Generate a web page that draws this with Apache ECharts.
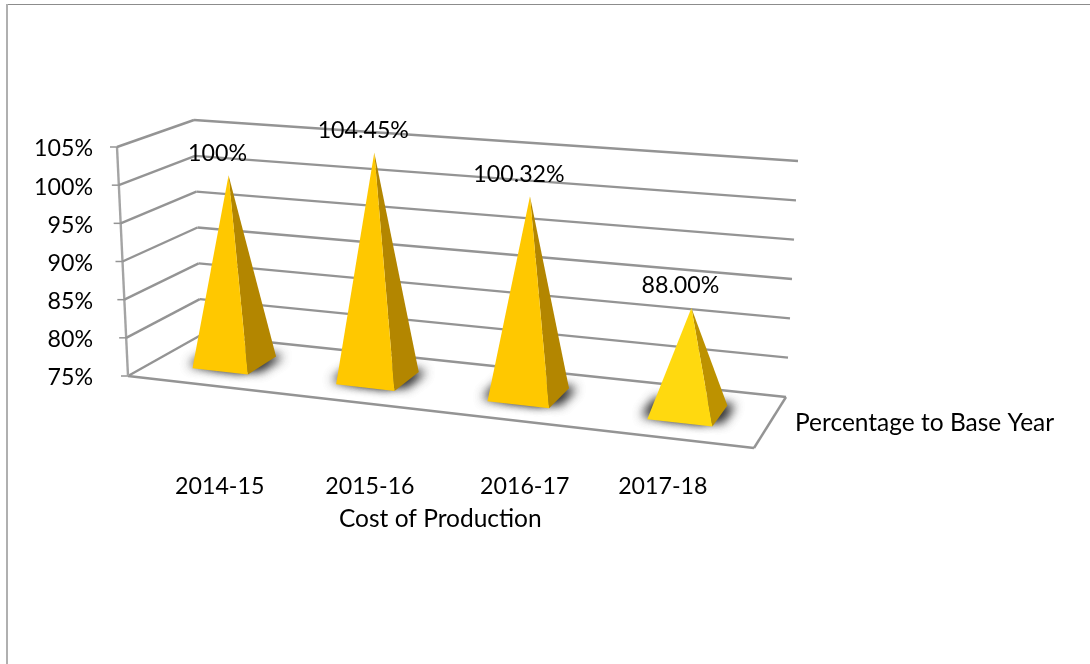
<!DOCTYPE html>
<html>
<head>
<meta charset="utf-8">
<style>html,body{margin:0;padding:0;background:#fff}#chart{width:1090px;height:664px}</style>
<script src="https://cdn.jsdelivr.net/npm/echarts@6/dist/echarts.min.js"></script>
</head>
<body>
<div id="chart"></div>
<script>
// Cost of production as a percentage of the base year.
const categories = ['2014-15', '2015-16', '2016-17', '2017-18'];
const percentValues = [100, 104.45, 100.32, 88];
const valueLabels = ['100%', '104.45%', '100.32%', '88.00%'];
const axisMin = 75;
const axisMax = 105;
const axisStep = 5;
const depthName = 'Percentage to Base Year';
const categoryName = 'Cost of Production';

// Corners of the receding box: floor and ceiling planes, as [front-left, front-right, back-right, back-left].
const floorCorners = [[128, 376], [754, 448], [786, 397], [201, 335]];
const ceilingCorners = [[117, 147], [767, 195.5], [798, 161], [194, 120]];
// Horizontal nudges for the category captions, in pixels.
const captionNudge = [-15, -8, -4, -25];
const FONT = 'Lato, "Noto Sans", sans-serif';
const NUMBER_SIZE = 23.2;
const WORD_SIZE = 24.5;

// Projective map from the unit square onto a quadrilateral.
function squareToQuad(q) {
  const [[x0, y0], [x1, y1], [x2, y2], [x3, y3]] = q;
  const dx1 = x1 - x2, dx2 = x3 - x2, sx = x0 - x1 + x2 - x3;
  const dy1 = y1 - y2, dy2 = y3 - y2, sy = y0 - y1 + y2 - y3;
  const d = dx1 * dy2 - dx2 * dy1;
  const g = (sx * dy2 - dx2 * sy) / d;
  const h = (dx1 * sy - sx * dy1) / d;
  const a = x1 - x0 + g * x1, b = x3 - x0 + h * x3;
  const c = y1 - y0 + g * y1, e = y3 - y0 + h * y3;
  return (u, t) => {
    const w = g * u + h * t + 1;
    return [(a * u + b * t + x0) / w, (c * u + e * t + y0) / w];
  };
}
const floorMap = squareToQuad(floorCorners);
const ceilingMap = squareToQuad(ceilingCorners);

// u runs along the categories, t into the depth, w from axis minimum to axis maximum.
function project(u, t, w) {
  const f = floorMap(u, t), c = ceilingMap(u, t);
  return [f[0] + (c[0] - f[0]) * w, f[1] + (c[1] - f[1]) * w];
}

const chart = echarts.init(document.getElementById('chart'), null, { renderer: 'canvas' });

// Converts a data pair to unit coordinates using the cartesian scales.
function toUnit(api, params, catPos, value) {
  const p = api.coord([catPos, value]);
  const g = params.coordSys;
  return [(p[0] - g.x) / g.width, (g.y + g.height - p[1]) / g.height];
}

const WALL = '#949494';
const tickValues = [];
for (let v = axisMin; v <= axisMax; v += axisStep) tickValues.push(v);

function seg(a, b, width, color) {
  return { type: 'line', shape: { x1: a[0], y1: a[1], x2: b[0], y2: b[1] },
    style: { stroke: color || WALL, lineWidth: width || 2.4 }, z2: 1 };
}

function renderFrame(params, api) {
  const v = api.value(0);
  const w = toUnit(api, params, 0, v)[1];
  const children = [
    seg(project(0, 0, w), project(0, 1, w)),
    seg(project(0, 1, w), project(1, 1, w)),
    // short tick at the front of the value axis
    seg(project(0, 0, w), [project(0, 0, w)[0] - 7, project(0, 0, w)[1]], 1.5)
  ];
  if (v === axisMin) {
    children.push(seg(project(0, 0, 0), project(1, 0, 0)));
    children.push(seg(project(1, 0, 0), project(1, 1, 0)));
    children.push(seg(project(0, 0, 0), project(0, 0, 1), 2.4, '#a4a4a4'));
  }
  return { type: 'group', children };
}

const BASE_HALF_U = 0.049;
const BASE_HALF_T = 0.21;
const FRONT_COLORS = ['#FFC800', '#FFC800', '#FFC800', '#FFD90F'];
const SIDE_COLORS = ['#B38600', '#B38600', '#B38600', '#BD9200'];

function polygon(points, fill, extra) {
  return { type: 'polygon', shape: { points },
    style: Object.assign({ fill }, extra || {}), z2: 5 };
}

// Soft contact shadow: a quad hidden by the pyramid casts blurred copies to both sides of the base.
function contactShadow(u, t) {
  const du = BASE_HALF_U * 0.95;
  const front = BASE_HALF_T * 0.72;
  const back = BASE_HALF_T * 0.9;
  const quad = [
    project(u - du, t - front, 0),
    project(u + du, t - front, 0),
    project(u + du, t + back, 0),
    project(u - du, t + back, 0)
  ];
  const layers = [];
  [-9, 9].forEach(offset => {
    for (let k = 0; k < 2; k++) {
      layers.push(polygon(quad, '#3c3c3c', {
        shadowBlur: 11, shadowOffsetX: offset, shadowOffsetY: -1,
        shadowColor: 'rgba(40,40,40,0.8)'
      }));
    }
  });
  return layers;
}

function renderPyramid(params, api) {
  const i = api.value(0);
  const val = api.value(1);
  const [u, w] = toUnit(api, params, i, val);
  const t = 0.5;
  const fl = project(u - BASE_HALF_U, t - BASE_HALF_T, 0);
  const fr = project(u + BASE_HALF_U, t - BASE_HALF_T, 0);
  const br = project(u + BASE_HALF_U, t + BASE_HALF_T, 0);
  const apex = project(u, t, w);
  return { type: 'group', children: contactShadow(u, t).concat([
    polygon([fr, br, apex], SIDE_COLORS[i]),
    polygon([fl, fr, apex], FRONT_COLORS[i]),
    { type: 'text', z2: 10, style: { x: apex[0] - 11, y: apex[1] - 22, text: valueLabels[i],
        font: NUMBER_SIZE + 'px ' + FONT, fill: '#000', align: 'center', verticalAlign: 'middle' } }
  ]) };
}

function renderCaption(params, api) {
  const i = api.value(0);
  const [u] = toUnit(api, params, i, axisMin);
  const f = project(u, 0.5, 0);
  return { type: 'text', style: { x: f[0] + captionNudge[i], y: 487, text: categories[i],
      font: NUMBER_SIZE + 'px ' + FONT, fill: '#000', align: 'center', verticalAlign: 'middle' } };
}

chart.setOption({
  animation: false,
  backgroundColor: '#fff',
  grid: { left: 100, top: 149, width: 700, height: 229 },
  xAxis: { type: 'category', data: categories, show: false, boundaryGap: true },
  yAxis: {
    type: 'value', min: axisMin, max: axisMax, interval: axisStep,
    axisLine: { show: false }, axisTick: { show: false }, splitLine: { show: false },
    axisLabel: { formatter: '{value}%', color: '#000', fontFamily: FONT, fontSize: NUMBER_SIZE, margin: 7 }
  },
  graphic: [
    { type: 'line', z: -1, shape: { x1: 6, y1: 4.5, x2: 1090, y2: 4.5 }, style: { stroke: '#8c8c8c', lineWidth: 1 } },
    { type: 'line', z: -1, shape: { x1: 7, y1: 4, x2: 7, y2: 664 }, style: { stroke: '#b0b0b0', lineWidth: 2 } },
    { type: 'text', left: 795, top: 411, style: { text: depthName, font: WORD_SIZE + 'px ' + FONT, fill: '#000' } },
    { type: 'text', left: 339, top: 507, style: { text: categoryName, font: WORD_SIZE + 'px ' + FONT, fill: '#000' } }
  ],
  series: [
    { type: 'custom', coordinateSystem: 'cartesian2d', renderItem: renderFrame, silent: true, z: 1,
      data: tickValues.map(v => [v]), encode: { x: [], y: 0 } },
    { type: 'custom', coordinateSystem: 'cartesian2d', renderItem: renderPyramid, silent: true, z: 2,
      data: percentValues.map((v, i) => [i, v]), encode: { x: 0, y: 1 } },
    { type: 'custom', coordinateSystem: 'cartesian2d', renderItem: renderCaption, silent: true, z: 3,
      data: categories.map((c, i) => [i]), encode: { x: 0 } }
  ]
});
</script>
</body>
</html>
